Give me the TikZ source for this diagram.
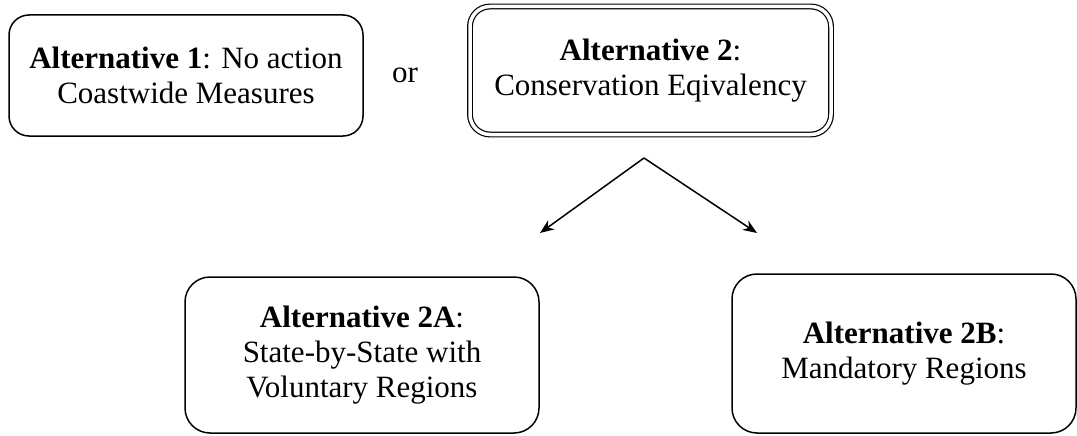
\documentclass[tikz,border=0pt]{standalone}
\usepackage{fontspec}
\setmainfont{Liberation Serif}
\usetikzlibrary{arrows.meta}

\begin{document}
\begin{tikzpicture}[x=1pt, y=-1pt, >={Stealth[length=14pt,width=11pt]}, line width=1.5pt,
    altbox/.style={draw, rounded corners=20pt, align=center, inner sep=0pt, font=\fontsize{31}{35}\selectfont},
    dblbox/.style={altbox, double, double distance=3.5pt, line width=1.2pt}]
    \useasboundingbox (0,0) rectangle (1077,436);
    \node[altbox, minimum width=354pt, minimum height=121pt] (alt1) at (186,75.5) {\textbf{Alternative 1}: No action\\Coastwide Measures};
    \node[font=\fontsize{31}{35}\selectfont] (or) at (405,75) {or};
    \node[dblbox, minimum width=361pt, minimum height=128pt] (alt2) at (650.5,70.5) {\textbf{Alternative 2}:\\Conservation Eqivalency};
    \node[altbox, rounded corners=25pt, minimum width=354pt, minimum height=156pt] (alt2a) at (362,355) {\textbf{Alternative 2A}:\\State-by-State with\\Voluntary Regions};
    \node[altbox, rounded corners=25pt, minimum width=344pt, minimum height=159pt] (alt2b) at (904,353.5) {\textbf{Alternative 2B}:\\Mandatory Regions};
    \coordinate (split) at (644,158);
    \coordinate (tipA) at (540,233);
    \coordinate (tipB) at (757,233);
    \draw[->] (split) -- (tipA);
    \draw[->] (split) -- (tipB);
\end{tikzpicture}
\end{document}
